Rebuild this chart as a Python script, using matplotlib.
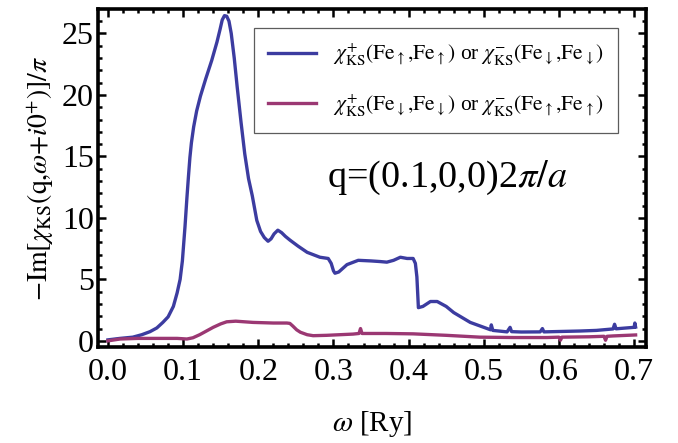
import matplotlib
matplotlib.use("Agg")
import matplotlib.pyplot as plt
from matplotlib.ticker import MultipleLocator

plt.rcParams['font.family'] = ['Liberation Serif', 'DejaVu Serif']
plt.rcParams['mathtext.fontset'] = 'stix'

# omega [Ry]
w_up = [0.0, 0.016, 0.033, 0.045, 0.056, 0.065, 0.073, 0.08, 0.087, 0.092, 0.096, 0.099,
        0.1025, 0.105, 0.107, 0.109, 0.111, 0.114, 0.118, 0.123, 0.13, 0.138, 0.145,
        0.149, 0.152, 0.155, 0.158, 0.161, 0.164, 0.168, 0.172, 0.177, 0.182, 0.187,
        0.192, 0.198, 0.203, 0.208, 0.213, 0.217, 0.221, 0.226, 0.231, 0.236, 0.242,
        0.253, 0.265, 0.282, 0.293, 0.297, 0.3, 0.302, 0.307, 0.318, 0.333, 0.35,
        0.362, 0.371, 0.38, 0.389, 0.398, 0.406, 0.409, 0.411, 0.413, 0.419, 0.429,
        0.438, 0.45, 0.46, 0.482, 0.509, 0.51, 0.512, 0.531, 0.535, 0.537, 0.55, 0.575,
        0.578, 0.58, 0.6, 0.628, 0.65, 0.672, 0.674, 0.676, 0.69, 0.7, 0.701, 0.702]
im_up = [0.08, 0.2, 0.3, 0.5, 0.75, 1.05, 1.5, 1.95, 2.8, 3.9, 5.0, 6.5,
         9.3, 11.6, 13.3, 14.9, 16.1, 17.4, 18.7, 19.9, 21.3, 22.8, 24.3,
         25.3, 26.1, 26.45, 26.4, 26.0, 25.0, 23.0, 20.6, 17.8, 15.2, 13.2,
         11.8, 9.8, 8.9, 8.4, 8.1, 8.3, 8.7, 9.0, 8.8, 8.5, 8.2,
         7.7, 7.2, 6.8, 6.7, 6.3, 5.7, 5.5, 5.6, 6.2, 6.55, 6.5,
         6.45, 6.4, 6.55, 6.8, 6.7, 6.7, 6.3, 5.2, 2.7, 2.8, 3.2,
         3.2, 2.8, 2.3, 1.5, 0.9, 1.3, 0.85, 0.73, 1.1, 0.75, 0.72, 0.73,
         1.0, 0.73, 0.76, 0.8, 0.85, 0.97, 1.35, 0.98, 1.05, 1.1, 1.45, 1.12]

w_dn = [0.0, 0.016, 0.04, 0.069, 0.092, 0.105, 0.113, 0.122, 0.131, 0.14, 0.15, 0.158,
        0.17, 0.193, 0.22, 0.238, 0.242, 0.246, 0.251, 0.256, 0.265, 0.273, 0.291,
        0.326, 0.334, 0.336, 0.338, 0.37, 0.406, 0.45, 0.495, 0.54, 0.584, 0.6, 0.602,
        0.604, 0.64, 0.66, 0.662, 0.664, 0.672, 0.702]
im_dn = [0.0, 0.15, 0.2, 0.2, 0.2, 0.15, 0.25, 0.5, 0.8, 1.1, 1.38, 1.55,
         1.6, 1.5, 1.45, 1.45, 1.42, 1.2, 0.9, 0.7, 0.5, 0.42, 0.45,
         0.55, 0.6, 1.0, 0.6, 0.6, 0.57, 0.45, 0.3, 0.27, 0.27, 0.3, 0.05,
         0.3, 0.33, 0.37, 0.05, 0.37, 0.4, 0.48]

xticks = [0.0, 0.1, 0.2, 0.3, 0.4, 0.5, 0.6, 0.7]
yticks = [0, 5, 10, 15, 20, 25]

blue = '#3c3ca0'
mag = '#9b3873'

fig = plt.figure(figsize=(6.78, 4.43), dpi=100)
ax = fig.add_axes([0.1445, 0.2167, 0.8085, 0.7619])

lab1 = (r"$\chi^{+}_{\mathrm{KS}}(\mathrm{Fe}_{\uparrow}{,}\mathrm{Fe}_{\uparrow})$ or "
        r"$\chi^{-}_{\mathrm{KS}}(\mathrm{Fe}_{\downarrow}{,}\mathrm{Fe}_{\downarrow})$")
lab2 = (r"$\chi^{+}_{\mathrm{KS}}(\mathrm{Fe}_{\downarrow}{,}\mathrm{Fe}_{\downarrow})$ or "
        r"$\chi^{-}_{\mathrm{KS}}(\mathrm{Fe}_{\uparrow}{,}\mathrm{Fe}_{\uparrow})$")

ax.plot(w_up, im_up, color=blue, lw=2.4, label=lab1, solid_joinstyle='round')
ax.plot(w_dn, im_dn, color=mag, lw=2.4, label=lab2, solid_joinstyle='round')

ax.set_xlim(-0.0133, 0.716)
ax.set_ylim(-0.5, 26.95)
ax.set_xticks(xticks)
ax.set_xticklabels([f"{t:.1f}" for t in xticks])
ax.set_yticks(yticks)
ax.xaxis.set_minor_locator(MultipleLocator(0.02))
ax.yaxis.set_minor_locator(MultipleLocator(1))
ax.tick_params(which='both', direction='in', top=True, right=True, labelsize=23, width=1.8)
ax.tick_params(axis='x', pad=8)
ax.tick_params(axis='y', pad=3)
ax.tick_params(which='major', length=6)
ax.tick_params(which='minor', length=3)
for s in ax.spines.values():
    s.set_linewidth(2.6)

ax.set_xlabel(r"$\omega$ [Ry]", fontsize=21, labelpad=16)
ax.set_ylabel(r"$-\mathrm{Im}[\chi_{\mathrm{KS}}(\mathrm{q}{,}\omega{+}i0^{+})]/\pi$", fontsize=20, labelpad=4)

leg = ax.legend(loc='upper left', bbox_to_anchor=(0.285, 0.945), fontsize=15.5,
                frameon=True, fancybox=False, edgecolor='#333333', handlelength=2.2,
                borderpad=0.65, labelspacing=1.1, handletextpad=0.8, borderaxespad=0)
leg.get_frame().set_linewidth(0.9)

ax.text(0.637, 0.50, r"q=(0.1,0,0)2$\pi/a$", transform=ax.transAxes, fontsize=27.5,
        ha='center', va='center')

fig.savefig("out.png", dpi=100)
